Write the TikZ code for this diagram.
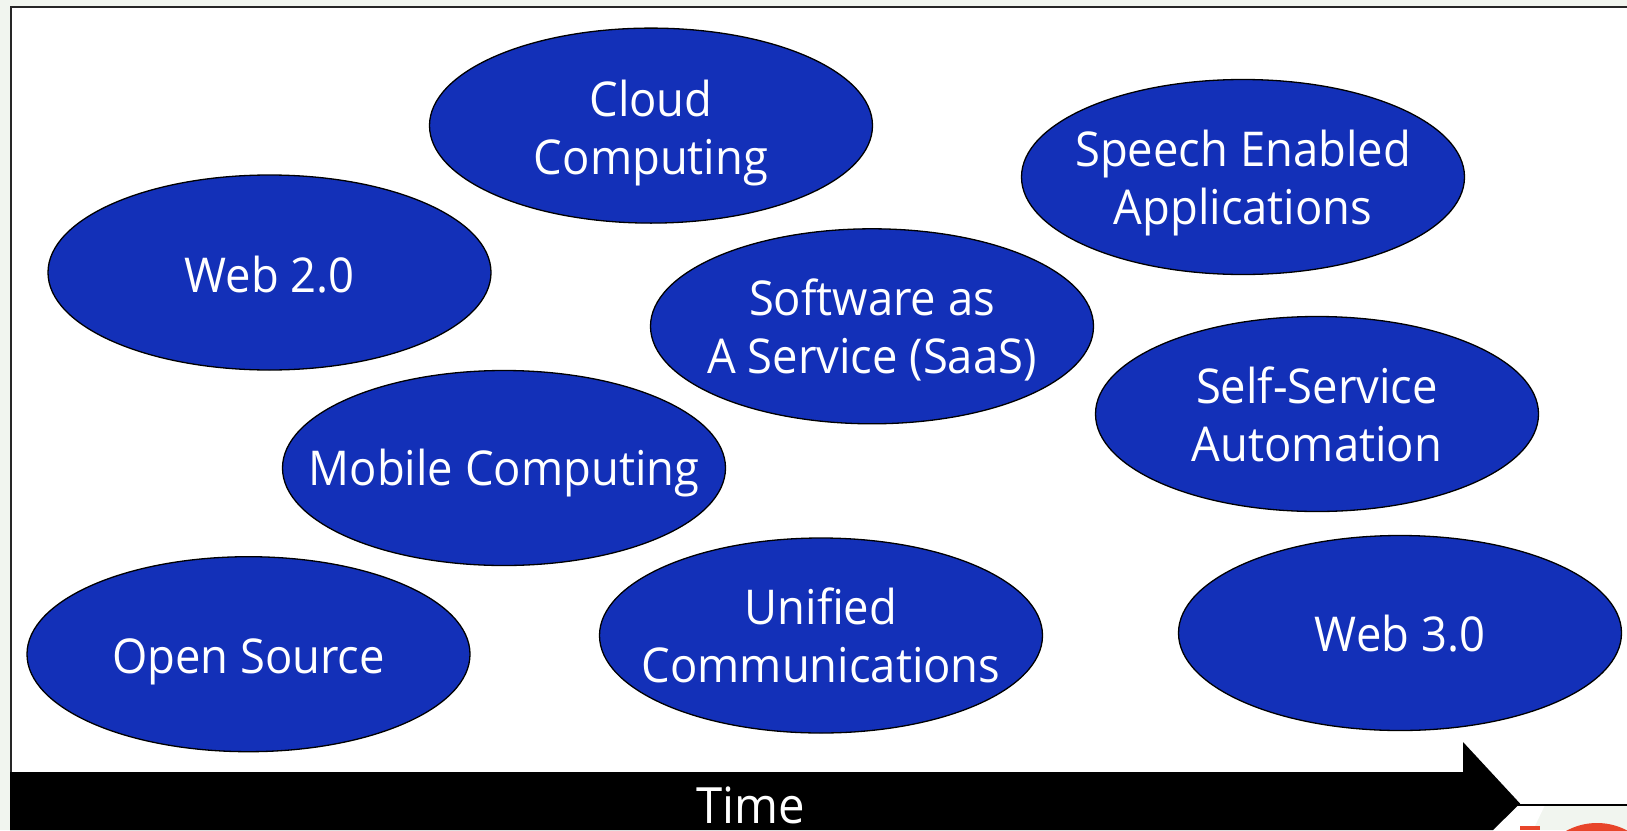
\documentclass[tikz,border=0pt]{standalone}
\usepackage{fontspec}
\setmainfont[FakeStretch=0.945]{Open Sans}
\usetikzlibrary{shapes.geometric}
\definecolor{pagebg}{HTML}{F1F5EF}
\definecolor{ellblue}{HTML}{1330B8}
\definecolor{logored}{HTML}{E8452A}
\newcommand\ts[1][0]{\rule{0pt}{\dimexpr44pt+#1pt\relax}\rule[-4pt]{0pt}{4pt}}
\tikzset{
  x=1pt,y=-1pt,
  topic/.style={ellipse,draw=black,fill=ellblue,line width=1.3pt,minimum width=443pt,minimum height=195pt,inner xsep=-120pt,inner ysep=-60pt,text=white,align=center,font=\fontsize{48}{58}\selectfont},
  timelabel/.style={text=white,font=\fontsize{50}{56}\selectfont,inner sep=0pt},
}
\begin{document}
\begin{tikzpicture}
\useasboundingbox (0,0) rectangle (1627,830);
\fill[pagebg] (0,0) rectangle (1627,830);
\fill[white] (10,7) rectangle (1627,805);
\fill[white] (1515,805) -- (1545,805) -- (1533,830) -- (1490,830) -- cycle;
\draw[line width=2pt,black!85] (1627,7) -- (10.5,7) -- (10.5,775);
\draw[line width=2pt,black] (1515,805) -- (1627,805);
\fill[black] (10,772) -- (1463,772) -- (1463,742) -- (1520,803.5) -- (1493,830) -- (10,830) -- cycle;
\begin{scope}
\clip (1515,806) rectangle (1627,830);
\fill[logored] (1520,826) rectangle (1540,830);
\fill[logored] (1597,887) circle (64);
\end{scope}
\node[topic] (cloud) at (651,125.6) {\ts[7]Cloud\\\ts Computing};
\node[topic] (web2) at (269.5,272.5) {\ts Web 2.0};
\node[topic] (speech) at (1243,177) {\ts[4]Speech Enabled\\\ts Applications};
\node[topic] (saas) at (872,326.3) {\ts Software as\\\ts A Service (SaaS)};
\node[topic] (self) at (1317,414) {\ts[-4]Self-Service\\\ts Automation};
\node[topic] (mobile) at (504,468) {\ts[2]Mobile Computing};
\node[topic] (unified) at (821,635.5) {\ts[-4]Unified\\\ts Communications};
\node[topic] (open) at (248.5,654.2) {\ts[6]Open Source};
\node[topic] (web3) at (1400,633) {\ts[-4]Web 3.0};
\node[timelabel] (time) at (751,805) {Time};
\end{tikzpicture}
\end{document}
